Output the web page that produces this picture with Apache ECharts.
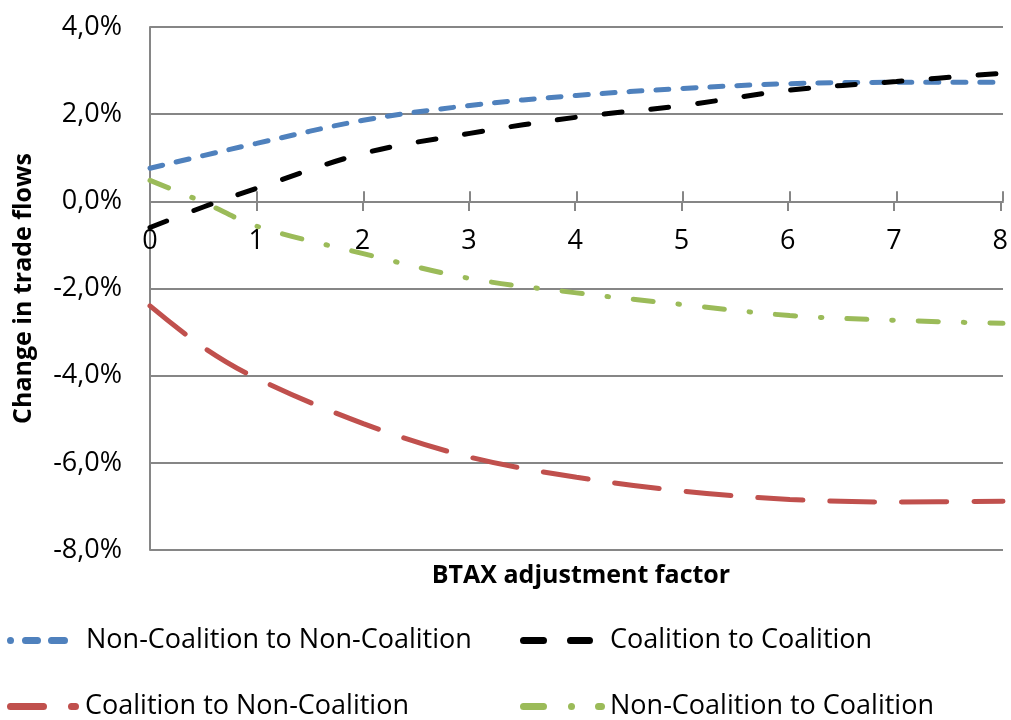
<!DOCTYPE html>
<html>
<head>
<meta charset="utf-8">
<script src="https://cdn.jsdelivr.net/npm/echarts@6/dist/echarts.min.js"></script>
<style>html,body{margin:0;padding:0;background:#fff}#c{width:1011px;height:720px}</style>
</head>
<body>
<div id="c"></div>
<script>
const xValues = [0, 0.5, 1, 2, 3, 4, 5, 6, 7, 8];
const nonCoalToNonCoal = [0.76, 1.05, 1.33, 1.86, 2.20, 2.43, 2.59, 2.70, 2.73, 2.73];
const coalToCoal = [-0.60, -0.13, 0.30, 1.10, 1.56, 1.93, 2.20, 2.55, 2.75, 2.94];
const coalToNonCoal = [-2.40, -3.35, -4.06, -5.10, -5.87, -6.33, -6.65, -6.84, -6.90, -6.88];
const nonCoalToCoal = [0.48, -0.02, -0.57, -1.20, -1.77, -2.10, -2.37, -2.62, -2.73, -2.80];
const seriesNames = ['Non-Coalition to Non-Coalition', 'Coalition to Coalition', 'Coalition to Non-Coalition', 'Non-Coalition to Coalition'];
const yTicks = [-8, -6, -4, -2, 0, 2, 4];
const xTicks = [0, 1, 2, 3, 4, 5, 6, 7, 8];

const FONT = 'Open Sans';
const pair = arr => xValues.map((x, i) => [x, arr[i]]);
const mk = (name, data, color, dash, width) => ({
  name, type: 'line', data: pair(data), smooth: 0.35, symbol: 'none', showSymbol: false,
  xAxisIndex: 0, yAxisIndex: 0,
  lineStyle: { color, width, type: dash, cap: 'round' }, itemStyle: { color }
});

// legend icon: rounded pills [start, end] within a box of height 7
const pill = (a, b) => {
  const r = 3.5, w = Math.max(b - a - 2 * r, 0.01);
  return `M${a + r},0h${w}a${r},${r},0,0,1,0,${2 * r}h${-w}a${r},${r},0,0,1,0,${-2 * r}Z`;
};
const icon = segs => 'path://' + segs.map(s => pill(s[0], s[1])).join('');

const legendItem = (name, segs, left, top, width, pad) => ({
  data: [{ name, icon: icon(segs) }], left, top, itemWidth: width, itemHeight: 7, padding: 0,
  textStyle: { fontFamily: FONT, fontSize: 27, color: '#000', padding: [0, 0, 0, pad] }
});

const axisGray = '#868686';
const xMin = xTicks[0], xMax = xTicks[xTicks.length - 1];
const yMin = yTicks[0], yMax = yTicks[yTicks.length - 1];
const chart = echarts.init(document.getElementById('c'));
chart.setOption({
  animation: false,
  textStyle: { fontFamily: FONT },
  grid: [
    { left: 150, right: 8, top: 27, bottom: 170 },
    { left: 150, right: 8, top: 27, bottom: 170 },
    { left: 150, right: 8, top: 27, bottom: 519 }
  ],
  title: {
    text: 'BTAX adjustment factor', left: 576, top: 558, textAlign: 'center',
    textStyle: { fontFamily: FONT, fontSize: 25, fontWeight: 'bold', color: '#000' }
  },
  legend: [
    legendItem(seriesNames[0], [[0, 7], [15, 34], [41, 61]], 7, 627, 61, 13),
    legendItem(seriesNames[1], [[0, 27], [47, 73]], 520, 627, 73, 12),
    legendItem(seriesNames[2], [[0, 40], [61, 72]], 7, 693, 72, 1),
    legendItem(seriesNames[3], [[0, 27], [48, 53], [75, 85]], 520, 693, 85, 0)
  ],
  xAxis: [{
    gridIndex: 0, type: 'value', min: xMin, max: xMax, interval: 1, show: false
  }, {
    gridIndex: 1, type: 'value', min: xMin, max: xMax, interval: 1,
    axisLine: { onZero: true, lineStyle: { color: axisGray, width: 2 } },
    axisTick: { show: true, inside: true, length: 10, lineStyle: { color: axisGray, width: 2 } },
    axisLabel: { show: false }, splitLine: { show: false }
  }, {
    gridIndex: 2, type: 'value', min: xMin, max: xMax, interval: 1, position: 'bottom',
    axisLine: { show: false, onZero: false },
    axisTick: { show: true, length: 10, lineStyle: { color: axisGray, width: 2 } },
    axisLabel: { fontFamily: FONT, fontSize: 27, color: '#000', margin: 27 },
    splitLine: { show: false }
  }],
  yAxis: [{
    gridIndex: 0, type: 'value', min: yMin, max: yMax, interval: 2,
    name: 'Change in trade flows', nameLocation: 'middle', nameGap: 114,
    nameTextStyle: { fontFamily: FONT, fontSize: 25, fontWeight: 'bold', color: '#000' },
    axisLine: { show: true, onZero: false, lineStyle: { color: axisGray, width: 2 } },
    axisTick: { show: false },
    axisLabel: { fontFamily: FONT, fontSize: 27, color: '#000', margin: 28,
      formatter: v => v.toFixed(1).replace('.', ',') + '%' },
    splitLine: { show: true, lineStyle: { color: axisGray, width: 2 } }
  }, {
    gridIndex: 1, type: 'value', min: yMin, max: yMax, interval: 2, show: false
  }, {
    gridIndex: 2, type: 'value', min: 0, max: 1, show: false
  }],
  series: [
    mk(seriesNames[0], nonCoalToNonCoal, '#4F81BD', [13, 14], 5),
    mk(seriesNames[1], coalToCoal, '#000000', [18, 29], 5),
    mk(seriesNames[2], coalToNonCoal, '#C0504D', [45, 27], 5),
    mk(seriesNames[3], nonCoalToCoal, '#9BBB59', [20, 25, 1.5, 25], 5)
  ]
});
</script>
</body>
</html>
